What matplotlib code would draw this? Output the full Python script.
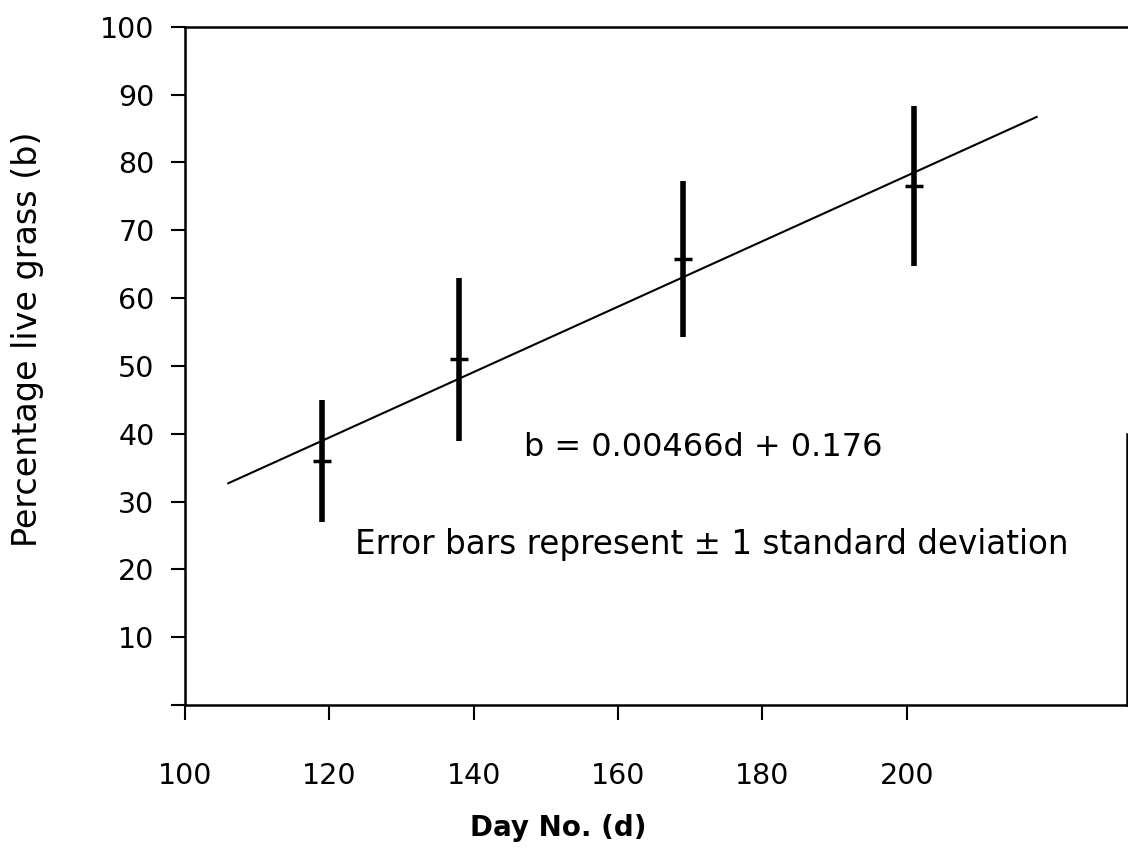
import matplotlib.pyplot as plt

plt.rcParams['font.family'] = ['DejaVu Sans']

days = [119, 138, 169, 201]
mean_pct = [36, 51, 65.7, 76.5]
sd_pct = [9, 12, 11.5, 11.8]

fit_days = [106, 218]
fit_pct = [32.7, 86.7]

x_ticks = [100, 120, 140, 160, 180, 200]
y_ticks = [0, 10, 20, 30, 40, 50, 60, 70, 80, 90, 100]
y_labels = ['', '10', '20', '30', '40', '50', '60', '70', '80', '90', '100']

fig = plt.figure(figsize=(11.28, 8.63), dpi=100)
ax = fig.add_axes([0.164, 0.183, 0.835, 0.786])

ax.plot(fit_days, fit_pct, color='black', lw=1.5)
ax.errorbar(days, mean_pct, yerr=sd_pct, fmt='none', ecolor='black',
            elinewidth=4, capsize=0)
ax.plot(days, mean_pct, ls='none', marker='_', color='black',
        markersize=13, mew=2.5)

ax.text(147, 38, 'b = 0.00466d + 0.176', fontsize=23, va='center')
ax.text(123.5, 23.7, 'Error bars represent \u00b1 1 standard deviation',
        fontsize=23.5, va='center')

ax.set_xlim(100, 230.5)
ax.set_ylim(0, 100)
ax.set_xticks(x_ticks)
ax.set_yticks(y_ticks)
ax.set_yticklabels(y_labels)
ax.tick_params(axis='x', direction='out', length=11, width=1.5,
               labelsize=20.5, pad=30)
ax.tick_params(axis='y', direction='out', length=10, width=1.5,
               labelsize=20.5, pad=12)

for s in ['left', 'bottom', 'top', 'right']:
    ax.spines[s].set_linewidth(1.8)
ax.spines['right'].set_bounds(0, 40)

ax.set_xlabel('Day No. (d)', fontsize=20, fontweight='bold')
ax.xaxis.set_label_coords(0.396, -0.16)
ax.set_ylabel('Percentage live grass (b)', fontsize=24)
ax.yaxis.set_label_coords(-0.15, 0.54)

fig.savefig('out.png', dpi=100)
